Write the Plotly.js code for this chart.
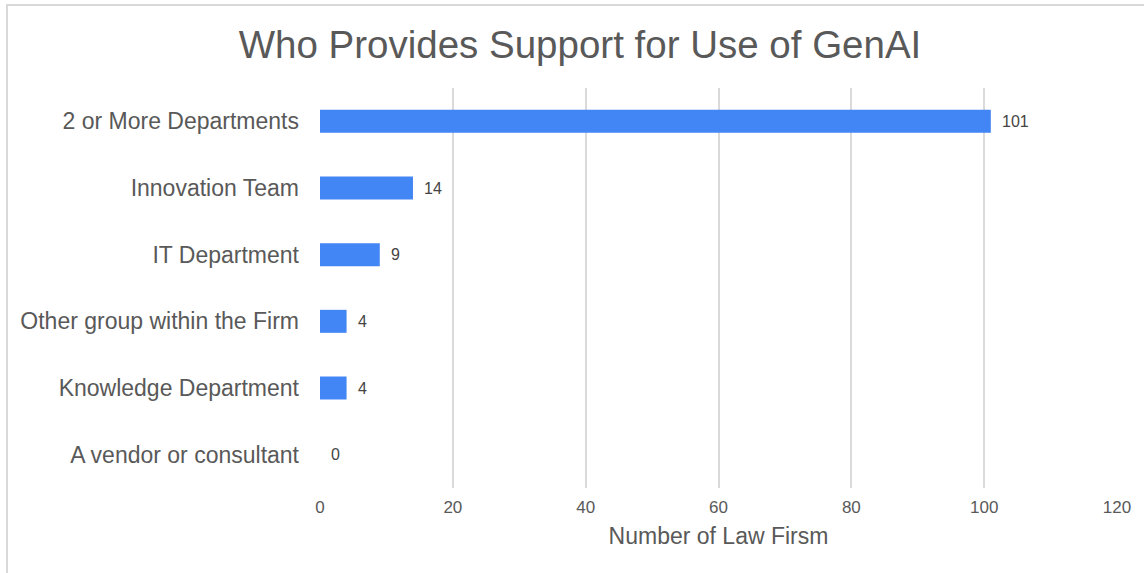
<!DOCTYPE html>
<html>
<head>
<meta charset="utf-8">
<script src="https://cdn.plot.ly/plotly-3.0.1.min.js"></script>
<style>
  html, body { margin: 0; padding: 0; background: #ffffff; }
  #wrap { position: relative; width: 1144px; height: 573px; overflow: hidden; }
  #chart { position: absolute; left: 0; top: 0; width: 1144px; height: 573px; }
  #frame {
    position: absolute; left: 6px; top: 4px; width: 1200px; height: 700px;
    border-top: 2px solid #d9d9d9; border-left: 2px solid #d9d9d9;
    pointer-events: none;
  }
</style>
</head>
<body>
<div id="wrap">
  <div id="chart"></div>
  <div id="frame"></div>
</div>
<script>
// Who supports GenAI use inside law firms
const categories = [
  "2 or More Departments",
  "Innovation Team",
  "IT Department",
  "Other group within the Firm",
  "Knowledge Department",
  "A vendor or consultant"
];
const firmCounts = [101, 14, 9, 4, 4, 0];
const xTickValues = [0, 20, 40, 60, 80, 100, 120];

const textColor = "#595959";
const gridColor = "#dadada";
const barColor = "#4285f4";
const fontFamily = "Liberation Sans, Arial, sans-serif";

const trace = {
  type: "bar",
  orientation: "h",
  y: categories,
  x: firmCounts,
  marker: { color: barColor },
  hoverinfo: "x+y"
};

// value labels placed just past the end of each bar
const valueLabels = categories.map((c, i) => ({
  x: firmCounts[i],
  y: c,
  xref: "x",
  yref: "y",
  text: String(firmCounts[i]),
  showarrow: false,
  xanchor: "left",
  yanchor: "middle",
  xshift: 9,
  font: { family: fontFamily, size: 16, color: "#444444" }
}));

const layout = {
  width: 1144,
  height: 573,
  margin: { l: 320, r: 27, t: 88, b: 85 },
  paper_bgcolor: "#ffffff",
  plot_bgcolor: "#ffffff",
  font: { family: fontFamily, color: textColor },
  title: {
    text: "Who Provides Support for Use of GenAI",
    x: 0.507,
    xref: "container",
    xanchor: "center",
    y: 0.922,
    yref: "container",
    yanchor: "middle",
    font: { family: fontFamily, size: 38.5, color: textColor }
  },
  bargap: 0.655,
  showlegend: false,
  xaxis: {
    range: [0, 120],
    tickvals: xTickValues,
    ticktext: xTickValues.map(String),
    showgrid: true,
    gridcolor: gridColor,
    gridwidth: 2,
    zeroline: false,
    showline: false,
    ticks: "",
    ticklabelstandoff: 7,
    tickfont: { family: fontFamily, size: 17, color: textColor },
    title: {
      text: "Number of Law Firsm",
      standoff: 11,
      font: { family: fontFamily, size: 23, color: textColor }
    },
    fixedrange: true
  },
  yaxis: {
    type: "category",
    categoryorder: "array",
    categoryarray: categories,
    autorange: "reversed",
    showgrid: false,
    zeroline: false,
    showline: false,
    ticks: "",
    ticklabelstandoff: 20,
    tickfont: { family: fontFamily, size: 23, color: textColor },
    fixedrange: true
  },
  annotations: valueLabels
};

Plotly.newPlot("chart", [trace], layout, { displayModeBar: false, staticPlot: true });
</script>
</body>
</html>
